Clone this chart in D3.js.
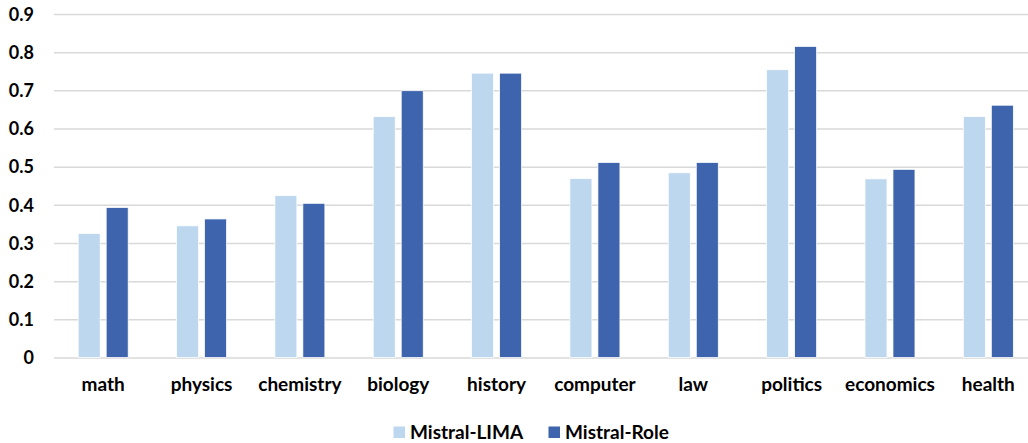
<!DOCTYPE html>
<html>
<head>
<meta charset="utf-8">
<script src="https://cdn.jsdelivr.net/npm/d3@7"></script>
<style>
  html, body { margin: 0; padding: 0; background: #fff; overflow: hidden; }
  svg { display: block; }
  text { font-family: Lato, "Open Sans", sans-serif; font-weight: 700; fill: #000; }
</style>
</head>
<body>
<svg id="chart" width="1028" height="443"></svg>
<script>
const categories = ["math", "physics", "chemistry", "biology", "history", "computer", "law", "politics", "economics", "health"];
const seriesNames = ["Mistral-LIMA", "Mistral-Role"];
const limaValues = [0.325, 0.345, 0.424, 0.631, 0.745, 0.469, 0.484, 0.754, 0.468, 0.631];
const roleValues = [0.393, 0.363, 0.404, 0.699, 0.745, 0.511, 0.511, 0.815, 0.493, 0.661];
const yTicks = [0, 0.1, 0.2, 0.3, 0.4, 0.5, 0.6, 0.7, 0.8, 0.9];
const colors = ["#BDD7EE", "#3D64AD"];

const svg = d3.select("#chart");
const plotLeft = 54, plotRight = 1037.5, plotTop = 14, plotBottom = 357.5;

const x = d3.scaleBand().domain(categories).range([plotLeft, plotRight]).paddingInner(0).paddingOuter(0);
const groupW = 50;
const x1 = d3.scaleBand().domain(seriesNames).range([0, groupW]).paddingInner(0.214).paddingOuter(0);
const y = d3.scaleLinear().domain([0, 0.9]).range([plotBottom, plotTop]);

// gridlines
const yAxis = d3.axisLeft(y).tickValues(yTicks).tickSize(-(1028 - plotLeft)).tickPadding(20)
  .tickFormat(d => d === 0 ? "0" : d3.format(".1f")(d));
const gy = svg.append("g").attr("transform", `translate(${plotLeft},0)`).call(yAxis);
gy.select(".domain").remove();
gy.selectAll(".tick line").attr("stroke", "#D9D9D9").attr("stroke-width", 1.5);
gy.selectAll(".tick text").attr("font-size", 18).attr("x", -20).attr("dy", "0.35em");

// bars
const data = categories.map((c, i) => ({ cat: c, vals: [limaValues[i], roleValues[i]] }));
const groups = svg.append("g").selectAll("g").data(data).join("g")
  .attr("transform", d => `translate(${x(d.cat) + (x.bandwidth() - groupW) / 2},0)`);
groups.selectAll("rect").data(d => d.vals.map((v, j) => ({ s: seriesNames[j], v, j })))
  .join("rect")
  .attr("x", d => x1(d.s))
  .attr("width", x1.bandwidth())
  .attr("y", d => y(d.v))
  .attr("height", d => y(0) - y(d.v))
  .attr("fill", d => colors[d.j])
  .attr("stroke", "#ffffff")
  .attr("stroke-width", 0.75);

// x axis labels
const xAxis = d3.axisBottom(x).tickSize(0).tickPadding(0);
const gx = svg.append("g").attr("transform", `translate(0,${plotBottom})`).call(xAxis);
gx.select(".domain").remove();
gx.selectAll(".tick text").attr("font-size", 19).attr("y", 0).attr("dy", 33.5);

// legend
const legend = svg.append("g");
const legendX = [393.5, 548.5];
seriesNames.forEach((s, i) => {
  legend.append("rect").attr("x", legendX[i]).attr("y", 426.5).attr("width", 11.5).attr("height", 11.5).attr("fill", colors[i]);
  legend.append("text").attr("x", legendX[i] + 16.5).attr("y", 439).attr("font-size", 19).text(s);
});
</script>
</body>
</html>
